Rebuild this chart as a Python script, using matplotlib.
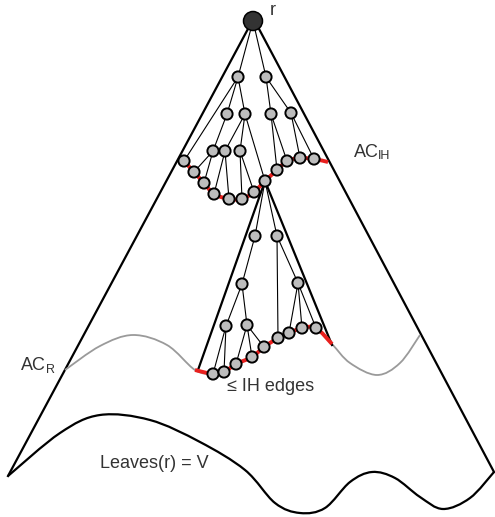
import matplotlib
matplotlib.use("Agg")
import matplotlib.pyplot as plt
import numpy as np
from matplotlib.path import Path
from matplotlib.patches import PathPatch, Circle

plt.rcParams['font.family'] = ['Liberation Sans', 'DejaVu Sans']

# ---- diagram data (pixel coords, y down) ----
root = (253, 21)
big_left = (8, 476)
big_right = (494, 472)

# upper subtree (hangs from root)
top_nodes = {
    'G1': (238, 77), 'H1': (266, 77),
    'G2': (227, 114), 'G3': (245, 114), 'H2': (271, 114), 'H3': (291, 113),
    'L1': (213, 151), 'L2': (225, 151), 'L3': (240, 151),
    'b1': (184, 161), 'b2': (194, 172), 'b3': (204, 183), 'b4': (214, 194),
    'b5': (229, 199), 'b6': (242, 199), 'b7': (254, 192), 'apex': (265, 181),
    'b9': (277, 170), 'b10': (287, 161), 'b11': (300, 158), 'b12': (314, 159),
}
top_edges = [('root', 'G1'), ('root', 'H1'),
             ('G1', 'b1'), ('G1', 'G2'), ('G1', 'G3'),
             ('G2', 'L1'),
             ('G3', 'L2'), ('G3', 'L3'), ('G3', 'apex'),
             ('L1', 'b2'), ('L1', 'b3'),
             ('L2', 'b4'), ('L2', 'b5'),
             ('L3', 'b6'), ('L3', 'b7'),
             ('H1', 'H2'), ('H1', 'H3'),
             ('H2', 'b9'), ('H2', 'b10'),
             ('H3', 'b11'), ('H3', 'b12')]

# lower subtree (hangs from apex)
low_nodes = {
    'A': (255, 236), 'B': (277, 236),
    'C': (242, 284), 'D': (298, 283),
    'E': (226, 326), 'F': (247, 325),
    'c1': (213, 374), 'c2': (224, 372), 'c3': (236, 364), 'c4': (252, 357),
    'c5': (264, 347), 'c6': (278, 338), 'c7': (289, 333), 'c8': (302, 328),
    'c9': (316, 328),
}
low_edges = [('apex', 'A'), ('apex', 'B'),
             ('A', 'C'), ('C', 'E'), ('C', 'F'),
             ('E', 'c1'), ('E', 'c2'),
             ('F', 'c3'), ('F', 'c4'), ('F', 'c5'),
             ('B', 'c6'), ('B', 'D'),
             ('D', 'c7'), ('D', 'c8'), ('D', 'c9')]
low_left = (198, 370)
low_right = (332, 345)

# curves
leaves_x = [8, 60, 100, 150, 200, 245, 275, 300, 325, 350, 372, 395, 420, 443, 470, 494]
leaves_y = [476, 433, 415, 420, 442, 470, 503, 513, 508, 482, 472, 478, 497, 509, 498, 472]

acr_x = [65, 100, 133, 167, 195, 213, 224, 236, 252, 264, 278, 289, 302, 316, 332, 350, 377, 400, 420]
acr_y = [370, 346, 335, 345, 370, 374, 372, 364, 357, 347, 338, 333, 328, 328, 344, 363, 375, 363, 335]
acr_red = (4, 14)  # index range drawn in red

acih_x = [184, 194, 204, 214, 229, 242, 254, 265, 277, 287, 300, 314, 328]
acih_y = [161, 172, 183, 194, 199, 199, 192, 181, 170, 161, 158, 159, 162]


def smooth_path(xs, ys):
    p = np.column_stack([xs, ys]).astype(float)
    ext = np.vstack([p[0], p, p[-1]])
    verts = [p[0]]
    codes = [Path.MOVETO]
    for i in range(len(p) - 1):
        p0, p1, p2, p3 = ext[i], ext[i + 1], ext[i + 2], ext[i + 3]
        verts += [p1 + (p2 - p0) / 6, p2 - (p3 - p1) / 6, p2]
        codes += [Path.CURVE4] * 3
    return Path(verts, codes)


fig = plt.figure(figsize=(4.95, 5.17), dpi=100)
ax = fig.add_axes([0, 0, 1, 1])
ax.set_xlim(0, 495)
ax.set_ylim(517, 0)
ax.axis('off')

RED = '#e8201e'
EDGE_LW = 0.8
BIG_LW = 1.6

# big triangle
ax.plot([root[0] - 4, big_left[0]], [root[1] + 6, big_left[1]], color='black', lw=BIG_LW, zorder=2)
ax.plot([root[0] + 5, big_right[0]], [root[1] + 6, big_right[1]], color='black', lw=BIG_LW, zorder=2)

# leaves curve
ax.add_patch(PathPatch(smooth_path(leaves_x, leaves_y), fill=False, ec='black', lw=BIG_LW, zorder=2))

# AC_R curve
ax.add_patch(PathPatch(smooth_path(acr_x, acr_y), fill=False, ec='#9a9a9a', lw=1.3, zorder=2))
lo, hi = acr_red
ax.add_patch(PathPatch(smooth_path(acr_x[lo:hi + 1], acr_y[lo:hi + 1]), fill=False,
                       ec=RED, lw=2.8, zorder=3))

# AC_IH curve
ax.add_patch(PathPatch(smooth_path(acih_x, acih_y), fill=False, ec=RED, lw=2.8, zorder=3))

# lower triangle
apex = top_nodes['apex']
for end in (low_left, low_right):
    ax.plot([apex[0], end[0]], [apex[1], end[1]], color='black', lw=BIG_LW, zorder=2)

allpos = dict(top_nodes)
allpos.update(low_nodes)
allpos['root'] = root
for a, b in top_edges + low_edges:
    (x0, y0), (x1, y1) = allpos[a], allpos[b]
    ax.plot([x0, x1], [y0, y1], color='black', lw=EDGE_LW, zorder=4)

for name, (x, y) in list(top_nodes.items()) + list(low_nodes.items()):
    ax.add_patch(Circle((x, y), 5.6, fc='#bdbdbd', ec='black', lw=1.4, zorder=5))

ax.add_patch(Circle(root, 9.5, fc='#333333', ec='black', lw=1.1, zorder=6))

TXT = '#333333'
ax.text(270, 15, 'r', fontsize=13, color=TXT, ha='left', va='baseline')
ax.text(354, 157, 'AC', fontsize=13, color=TXT, ha='left', va='baseline')
ax.text(378, 159, 'IH', fontsize=9, color=TXT, ha='left', va='baseline')
ax.text(21, 370, 'AC', fontsize=13, color=TXT, ha='left', va='baseline')
ax.text(46, 373, 'R', fontsize=9, color=TXT, ha='left', va='baseline')
ax.text(227, 391, '\u2264 IH edges', fontsize=13, color=TXT, ha='left', va='baseline')
ax.text(100, 468, 'Leaves(r) = V', fontsize=13, color=TXT, ha='left', va='baseline')

fig.savefig('out.png', dpi=100)
